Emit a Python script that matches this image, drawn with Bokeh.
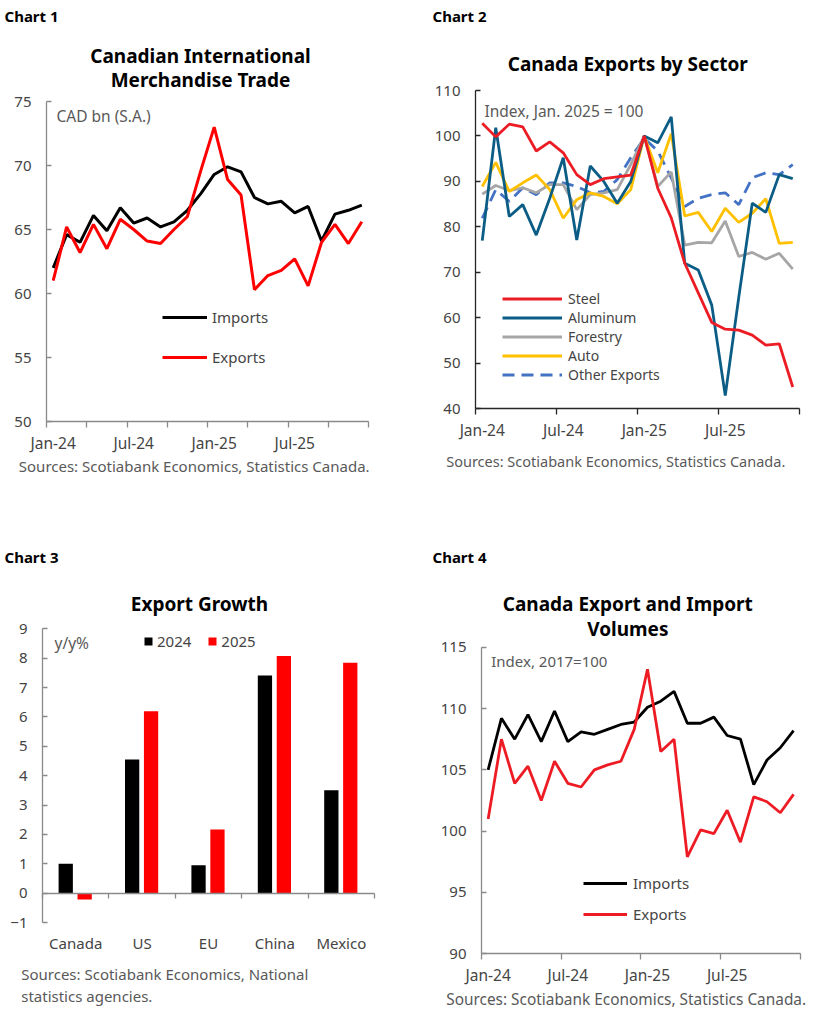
from bokeh.plotting import figure
from bokeh.models import (ColumnDataSource, Range1d, FixedTicker, LinearAxis,
                          Label, Legend, LegendItem)
from bokeh.transform import dodge
from bokeh.layouts import column, row
from bokeh.embed import file_html
from bokeh.resources import INLINE

# ---------------------------------------------------------------- data
months = ["Jan-24", "Feb-24", "Mar-24", "Apr-24", "May-24", "Jun-24",
          "Jul-24", "Aug-24", "Sep-24", "Oct-24", "Nov-24", "Dec-24",
          "Jan-25", "Feb-25", "Mar-25", "Apr-25", "May-25", "Jun-25",
          "Jul-25", "Aug-25", "Sep-25", "Oct-25", "Nov-25", "Dec-25"]

# Chart 1: merchandise trade, CAD bn (S.A.)
trade_imports = [62.0, 64.6, 64.0, 66.1, 64.9, 66.7, 65.5, 65.9, 65.2, 65.6,
                 66.5, 67.8, 69.3, 69.9, 69.5, 67.5, 67.0, 67.2, 66.3, 66.8,
                 64.1, 66.2, 66.5, 66.9]
trade_exports = [61.0, 65.2, 63.2, 65.4, 63.5, 65.8, 65.0, 64.1, 63.9, 65.0,
                 66.0, 69.6, 73.0, 68.9, 67.7, 60.3, 61.4, 61.8, 62.7, 60.6,
                 64.0, 65.4, 63.9, 65.6]
c1_yticks = [50, 55, 60, 65, 70, 75]

# Chart 2: exports by sector, index Jan. 2025 = 100
steel = [102.8, 99.8, 102.6, 102.0, 96.7, 98.7, 96.3, 91.5, 89.3, 90.6,
         91.0, 91.4, 100.0, 88.5, 82.0, 72.0, 65.5, 59.0, 57.5, 57.3,
         56.2, 54.0, 54.3, 44.8]
aluminum = [77.0, 101.8, 82.3, 84.9, 78.2, 86.3, 95.2, 77.1, 93.4, 90.0,
            85.2, 90.0, 100.0, 98.5, 104.2, 72.0, 70.5, 62.8, 42.9, 64.5,
            85.2, 83.2, 91.5, 90.6]
forestry = [87.2, 89.1, 88.0, 88.6, 87.5, 89.3, 89.3, 83.8, 87.1, 87.5,
            88.2, 93.7, 100.0, 88.9, 92.1, 76.0, 76.6, 76.5, 81.3, 73.5,
            74.4, 72.9, 74.2, 70.7]
auto = [88.9, 94.2, 87.8, 89.7, 91.4, 88.2, 81.9, 86.0, 87.5, 86.7,
        85.1, 88.2, 100.0, 91.9, 100.5, 82.4, 83.2, 79.0, 84.1, 81.0,
        83.0, 86.2, 76.4, 76.6]
other_exports = [81.9, 88.2, 85.6, 88.6, 87.1, 89.7, 89.7, 88.9, 87.5, 87.8,
                 90.4, 95.2, 99.5, 96.7, 90.8, 84.5, 86.3, 87.1, 87.5, 84.9,
                 90.8, 91.9, 91.5, 93.7]
c2_yticks = [40, 50, 60, 70, 80, 90, 100, 110]

# Chart 3: export growth, y/y%
regions = ["Canada", "US", "EU", "China", "Mexico"]
growth_2024 = [1.0, 4.55, 0.95, 7.41, 3.5]
growth_2025 = [-0.22, 6.19, 2.17, 8.07, 7.84]
c3_yticks = [-1, 0, 1, 2, 3, 4, 5, 6, 7, 8, 9]

# Chart 4: trade volumes, index 2017 = 100
vol_imports = [105.0, 109.2, 107.5, 109.5, 107.3, 109.8, 107.3, 108.1, 107.9,
               108.3, 108.7, 108.9, 110.1, 110.6, 111.4, 108.8, 108.8, 109.3,
               107.8, 107.5, 103.8, 105.8, 106.8, 108.2]
vol_exports = [101.0, 107.5, 103.9, 105.3, 102.5, 105.7, 103.9, 103.6, 105.0,
               105.4, 105.7, 108.3, 113.2, 106.5, 107.5, 97.9, 100.1, 99.8,
               101.7, 99.1, 102.8, 102.4, 101.5, 103.0]
c4_yticks = [90, 95, 100, 105, 110, 115]

# ---------------------------------------------------------------- styling
FONT = "Noto Sans"
AXIS_GRAY = "#8a8a8a"
TICK_GRAY = "#444444"
NOTE_GRAY = "#595959"
TICK_SIZE = "15px"
TITLE_SIZE = "19px"
NOTE_SIZE = "15.5px"

month_x = [i + 0.5 for i in range(len(months))]


def make_panel(width, height, box, xlim, ylim):
    """Figure whose frame fills the whole canvas; `box` (left, right, top,
    bottom, in canvas pixels from the top-left) is where xlim/ylim land."""
    left, right, top, bottom = box
    sx = (right - left) / (xlim[1] - xlim[0])
    sy = (bottom - top) / (ylim[1] - ylim[0])
    x_range = Range1d(xlim[0] - left / sx, xlim[1] + (width - right) / sx)
    y_range = Range1d(ylim[0] - (height - bottom) / sy, ylim[1] + top / sy)
    p = figure(width=width, height=height, x_range=x_range, y_range=y_range,
               x_axis_location=None, y_axis_location=None,
               output_backend="svg", toolbar_location=None, min_border=0)
    p.xgrid.visible = False
    p.ygrid.visible = False
    p.outline_line_color = None
    p.background_fill_color = "white"
    p.border_fill_color = "white"
    return p


def add_yaxis(p, at_x, ticks, line_color):
    ax = LinearAxis(fixed_location=at_x, bounds=(ticks[0], ticks[-1]),
                    ticker=FixedTicker(ticks=ticks),
                    axis_line_color=line_color, axis_line_width=1.3,
                    major_tick_line_color=line_color, major_tick_line_width=1.3,
                    major_tick_in=5, major_tick_out=0,
                    minor_tick_line_color=None, major_label_standoff=15,
                    major_label_text_font=FONT, major_label_text_font_size=TICK_SIZE,
                    major_label_text_color=TICK_GRAY)
    p.add_layout(ax, "left")


def add_month_axis(p, at_y, boundary_step, line_color):
    label_idx = list(range(0, len(months), 6))
    ax = LinearAxis(fixed_location=at_y, bounds=(0, len(months)),
                    ticker=FixedTicker(ticks=[month_x[i] for i in label_idx],
                                       minor_ticks=list(range(0, len(months) + 1,
                                                              boundary_step))),
                    major_label_overrides={month_x[i]: months[i] for i in label_idx},
                    axis_line_color=line_color, axis_line_width=1.3,
                    major_tick_line_color=None,
                    minor_tick_line_color=line_color, minor_tick_line_width=1.3,
                    minor_tick_in=0, minor_tick_out=6, major_label_standoff=4,
                    major_label_text_font=FONT, major_label_text_font_size="15.5px",
                    major_label_text_color=TICK_GRAY)
    p.add_layout(ax, "below")


def add_text(p, x, y_top, text, size=NOTE_SIZE, bold=False, align="left", color=NOTE_GRAY):
    # y_top counts pixels down from the top of the canvas
    p.add_layout(Label(x=x, y=p.height - y_top, x_units="screen", y_units="screen",
                       text=text, text_font=FONT, text_font_size=size,
                       text_font_style="bold" if bold else "normal",
                       text_align=align, text_baseline="middle",
                       text_color=color))


def line_legend(items, x, y, glyph_w, glyph_h, spacing, standoff, size):
    return Legend(items=items, location=(x, y), orientation="vertical",
                  glyph_width=glyph_w, glyph_height=glyph_h, label_height=glyph_h,
                  spacing=spacing, label_standoff=standoff, padding=0, margin=0,
                  border_line_color=None, background_fill_alpha=0,
                  label_text_font=FONT, label_text_font_size=size,
                  label_text_color=TICK_GRAY)


# ---------------------------------------------------------------- chart 1
p1 = make_panel(414, 511, (46, 368, 101, 421), (0, 24), (50, 75))
add_yaxis(p1, 0, c1_yticks, AXIS_GRAY)
add_month_axis(p1, 50, 3, AXIS_GRAY)
src1 = ColumnDataSource(dict(x=month_x, imports=trade_imports, exports=trade_exports))
r_imp1 = p1.line("x", "imports", source=src1, line_color="black", line_width=3)
r_exp1 = p1.line("x", "exports", source=src1, line_color="#ff0000", line_width=3)
p1.add_layout(line_legend([LegendItem(label="Imports", renderers=[r_imp1]),
                           LegendItem(label="Exports", renderers=[r_exp1])],
                          162, 144, 45, 20, 20, 5, "15px"))
add_text(p1, 4, 15, "Chart 1", size="15px", bold=True, color="black")
add_text(p1, 200, 55, "Canadian International", size=TITLE_SIZE, bold=True,
         align="center", color="black")
add_text(p1, 200, 79.5, "Merchandise Trade", size=TITLE_SIZE, bold=True,
         align="center", color="black")
add_text(p1, 56, 115.5, "CAD bn (S.A.)")
add_text(p1, 18.3, 465, "Sources: Scotiabank Economics, Statistics Canada.", size="15px")

# ---------------------------------------------------------------- chart 2
p2 = make_panel(414, 511, (61, 385, 90, 408.3), (0, 24), (40, 110))
add_yaxis(p2, 0, c2_yticks, "#262626")
add_month_axis(p2, 40, 6, "#262626")
src2 = ColumnDataSource(dict(x=month_x, steel=steel, aluminum=aluminum,
                             forestry=forestry, auto=auto, other=other_exports))
r_oth = p2.line("x", "other", source=src2, line_color="#4472c4", line_width=2.8,
                line_dash="12 7")
r_for = p2.line("x", "forestry", source=src2, line_color="#a6a6a6", line_width=2.8)
r_aut = p2.line("x", "auto", source=src2, line_color="#ffc000", line_width=2.8)
r_alu = p2.line("x", "aluminum", source=src2, line_color="#0b5d85", line_width=2.8)
r_ste = p2.line("x", "steel", source=src2, line_color="#ec1c24", line_width=2.8)
p2.add_layout(line_legend([LegendItem(label="Steel", renderers=[r_ste]),
                           LegendItem(label="Aluminum", renderers=[r_alu]),
                           LegendItem(label="Forestry", renderers=[r_for]),
                           LegendItem(label="Auto", renderers=[r_aut]),
                           LegendItem(label="Other Exports", renderers=[r_oth])],
                          88, 127, 60, 19, 0, 6, "14px"))
add_text(p2, 18, 15, "Chart 2", size="15px", bold=True, color="black")
add_text(p2, 213.3, 63, "Canada Exports by Sector", size=TITLE_SIZE, bold=True,
         align="center", color="black")
add_text(p2, 70, 110, "Index, Jan. 2025 = 100")
add_text(p2, 31.7, 460, "Sources: Scotiabank Economics, Statistics Canada.", size="14.5px")

# ---------------------------------------------------------------- chart 3
region_x = [i + 0.5 for i in range(len(regions))]
p3 = make_panel(414, 512, (42, 374, 117.3, 411), (0, len(regions)), (-1, 9))
add_yaxis(p3, 0, c3_yticks, AXIS_GRAY)
# zero line with boundary ticks between the regions
p3.add_layout(LinearAxis(fixed_location=0, bounds=(0, len(regions)),
                         ticker=FixedTicker(ticks=[], minor_ticks=list(range(len(regions) + 1))),
                         axis_line_color=AXIS_GRAY, axis_line_width=1.3,
                         major_tick_line_color=None, minor_tick_line_color=AXIS_GRAY,
                         minor_tick_line_width=1.3, minor_tick_in=0, minor_tick_out=5,
                         major_label_text_font_size="0px"), "below")
# region names along the bottom of the value axis
p3.add_layout(LinearAxis(fixed_location=-1, ticker=FixedTicker(ticks=region_x),
                         major_label_overrides={x: r for x, r in zip(region_x, regions)},
                         axis_line_color=None, major_tick_line_color=None,
                         minor_tick_line_color=None, major_label_standoff=4,
                         major_label_text_font=FONT, major_label_text_font_size=TICK_SIZE,
                         major_label_text_color=TICK_GRAY), "below")
src3 = ColumnDataSource(dict(x=region_x, g24=growth_2024, g25=growth_2025))
b24 = p3.vbar(x=dodge("x", -0.15, range=p3.x_range), top="g24", bottom=0, width=0.215,
              source=src3, fill_color="black", line_color=None)
b25 = p3.vbar(x=dodge("x", 0.135, range=p3.x_range), top="g25", bottom=0, width=0.215,
              source=src3, fill_color="#ff0000", line_color=None)
p3.add_layout(Legend(items=[LegendItem(label="2024", renderers=[b24]),
                            LegendItem(label="2025", renderers=[b25])],
                     location=(143, 512 - 129.5 - 10), orientation="horizontal",
                     glyph_width=10, glyph_height=10, label_height=10,
                     label_standoff=4, spacing=16, padding=0, margin=0,
                     border_line_color=None, background_fill_alpha=0,
                     label_text_font=FONT, label_text_font_size="15px",
                     label_text_color=TICK_GRAY))
add_text(p3, 4, 45, "Chart 3", size="15px", bold=True, color="black")
add_text(p3, 199, 92.3, "Export Growth", size=TITLE_SIZE, bold=True,
         align="center", color="black")
add_text(p3, 54, 131.7, "y/y%")
add_text(p3, 20.7, 462.3, "Sources: Scotiabank Economics, National", size="15px")
add_text(p3, 20.7, 484, "statistics agencies.", size="15px")

# ---------------------------------------------------------------- chart 4
p4 = make_panel(414, 512, (67, 385.7, 135.7, 442.3), (0, 24), (90, 115))
add_yaxis(p4, 0, c4_yticks, AXIS_GRAY)
add_month_axis(p4, 90, 6, AXIS_GRAY)
src4 = ColumnDataSource(dict(x=month_x, imports=vol_imports, exports=vol_exports))
r_imp4 = p4.line("x", "imports", source=src4, line_color="black", line_width=2.8)
r_exp4 = p4.line("x", "exports", source=src4, line_color="#ed1c24", line_width=2.8)
p4.add_layout(line_legend([LegendItem(label="Imports", renderers=[r_imp4]),
                           LegendItem(label="Exports", renderers=[r_exp4])],
                          169, 99, 44, 20, 11, 6, "15px"))
add_text(p4, 18, 45.7, "Chart 4", size="15px", bold=True, color="black")
add_text(p4, 213.3, 92, "Canada Export and Import", size=TITLE_SIZE, bold=True,
         align="center", color="black")
add_text(p4, 213.3, 117, "Volumes", size=TITLE_SIZE, bold=True,
         align="center", color="black")
add_text(p4, 76.7, 149, "Index, 2017=100", size="15px")
add_text(p4, 31.7, 488, "Sources: Scotiabank Economics, Statistics Canada.", size="15.4px")

page = column(row(p1, p2), row(p3, p4))

with open("out.html", "w") as f:
    f.write(file_html(page, INLINE))
